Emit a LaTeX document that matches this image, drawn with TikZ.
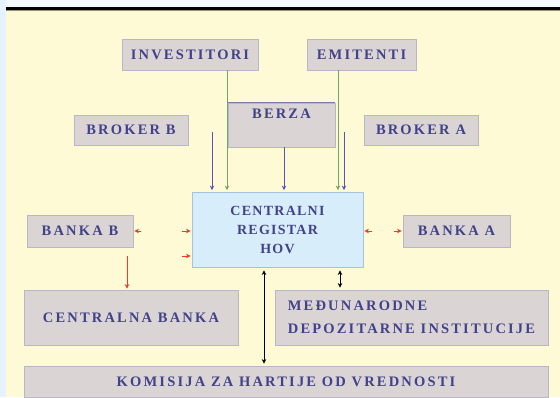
\documentclass[tikz,border=0pt]{standalone}
\usepackage{fontspec}
\setmainfont{Liberation Serif}
\newfontfamily\boxfont[LetterSpace=15]{Liberation Serif}
\newfontfamily\regfont[LetterSpace=9]{Liberation Serif}
\usetikzlibrary{arrows.meta, calc}
\definecolor{bgyellow}{RGB}{255,250,214}
\definecolor{stripblue}{RGB}{230,243,255}
\definecolor{topwhite}{RGB}{242,249,255}
\definecolor{topolive}{RGB}{150,150,110}
\definecolor{boxgray}{RGB}{218,212,212}
\definecolor{boxedge}{RGB}{185,182,200}
\definecolor{regblue}{RGB}{215,238,250}
\definecolor{regedge}{RGB}{165,195,222}
\definecolor{txtblue}{RGB}{66,66,138}
\definecolor{arrblue}{RGB}{85,85,185}
\definecolor{arrgreen}{RGB}{115,165,105}
\definecolor{arrred}{RGB}{232,62,40}

\begin{document}
\begin{tikzpicture}[x=1pt, y=-1pt, >={Stealth[length=4.5pt, width=4.5pt]},
  every node/.style={font=\boxfont\bfseries\fontsize{14.5}{17}\selectfont, text=txtblue},
  hovbox/.style={draw=boxedge, line width=0.8pt, fill=boxgray, inner sep=0pt},
  regbox/.style={draw=regedge, line width=0.8pt, fill=regblue, inner sep=0pt, align=center, font=\regfont\bfseries\fontsize{14}{19}\selectfont},
  bluearr/.style={->, draw=arrblue, line width=0.8pt, shorten >=1.5pt},
  greenarr/.style={->, draw=arrgreen, line width=0.8pt, shorten >=1.5pt},
  redarr/.style={->, draw=arrred, line width=0.8pt, shorten >=1pt},
  blackarr/.style={<->, draw=black, line width=0.6pt, shorten <=3pt, shorten >=2pt}]
  \useasboundingbox (0,0) rectangle (560,397);
  \fill[bgyellow] (0,0) rectangle (560,397);
  \fill[stripblue] (0,0) rectangle (6,397);
  \fill[topwhite] (6,0) rectangle (560,7);
  \fill[black] (6,7) rectangle (560,10);
  \fill[topolive] (6,10) rectangle (560,11.2);
  \node[hovbox, minimum width=136pt, minimum height=31pt] (investitori) at (190,54.5) {INVESTITORI};
  \node[hovbox, minimum width=109pt, minimum height=31pt] (emitenti) at (361.5,54.5) {EMITENTI};
  \node[hovbox, minimum width=107pt, minimum height=44pt, text depth=22pt] (berza) at (281.5,125) {BERZA};
  \draw[line width=1pt, draw=txtblue!70] (berza.north west) -- (berza.north east);
  \node[hovbox, minimum width=114pt, minimum height=30pt] (brokerB) at (131,130) {BROKER B};
  \node[hovbox, minimum width=114pt, minimum height=30pt] (brokerA) at (421,130) {BROKER A};
  \node[regbox, minimum width=171pt, minimum height=75pt] (central) at (277.5,229.5) {CENTRALNI\\REGISTAR\\HOV};
  \node[hovbox, minimum width=106pt, minimum height=32pt] (bankaB) at (80,231) {BANKA B};
  \node[hovbox, minimum width=107pt, minimum height=32pt] (bankaA) at (456.5,231) {BANKA A};
  \node[hovbox, minimum width=214pt, minimum height=55pt] (centralnaBanka) at (131,317.5) {CENTRALNA BANKA};
  \node[hovbox, minimum width=273pt, minimum height=55pt, align=left, font=\boxfont\bfseries\fontsize{14.5}{23}\selectfont] (medjunarodne) at (411.5,317.5) {MEĐUNARODNE\\DEPOZITARNE INSTITUCIJE};
  \node[hovbox, minimum width=524pt, minimum height=31pt] (komisija) at (286,381.5) {KOMISIJA ZA HARTIJE OD VREDNOSTI};

  \coordinate (brokerBout) at (212,132);
  \coordinate (brokerAout) at (344,132);
  \coordinate (investitoriout) at ([xshift=37pt]investitori.south);
  \coordinate (emitentiout) at ([xshift=-23.5pt]emitenti.south);
  \draw[bluearr] (brokerBout) -- (brokerBout |- central.north);
  \draw[greenarr] (investitoriout) -- (investitoriout |- central.north);
  \draw[bluearr] ([xshift=2.5pt]berza.south) -- ([xshift=2.5pt]berza.south |- central.north);
  \draw[greenarr] (emitentiout) -- (emitentiout |- central.north);
  \draw[bluearr] (brokerAout) -- (brokerAout |- central.north);

  \coordinate (bankaBstub) at ([xshift=8pt]bankaB.east);
  \coordinate (regWA) at (182,231);
  \coordinate (regWB) at (182,256);
  \coordinate (cbankaturn) at (127,256);
  \coordinate (regEA) at (372,231);
  \coordinate (bankaAstub) at ([xshift=-9pt]bankaA.west);
  \draw[redarr] (bankaBstub) -- (bankaB.east);
  \draw[redarr] (regWA) -- (regWA -| central.west);
  \draw[redarr] (regWB) -- (regWB -| central.west);
  \draw[redarr] (cbankaturn) -- (cbankaturn |- centralnaBanka.north);
  \draw[redarr] (regEA) -- (regEA -| central.east);
  \draw[redarr] (bankaAstub) -- (bankaA.west);

  \coordinate (komisijain) at ([xshift=-22pt]komisija.north);
  \coordinate (medjin) at ([xshift=-71.5pt]medjunarodne.north);
  \draw[blackarr] (komisijain |- central.south) -- (komisijain);
  \draw[blackarr] (medjin |- central.south) -- (medjin);
\end{tikzpicture}
\end{document}
